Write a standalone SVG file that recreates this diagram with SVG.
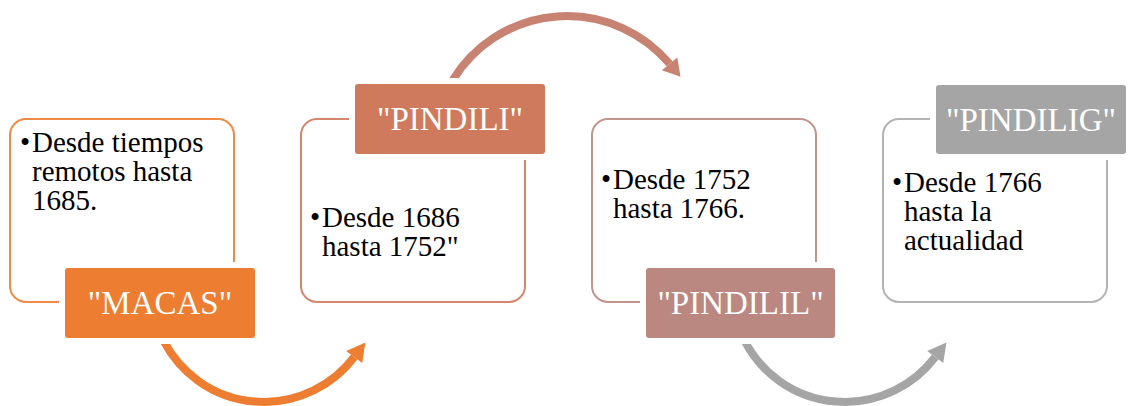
<svg xmlns="http://www.w3.org/2000/svg" width="1128" height="406" viewBox="0 0 1128 406">
<style>
.frame{fill:#fff;stroke-width:2}
.lbl{stroke:#fff;stroke-width:6}
.lt{font-size:33px;fill:#fff;text-anchor:middle}
.bt{font-size:29px;fill:#000}
.arc{fill:none;stroke-width:8}
</style>
<rect width="1128" height="406" fill="#fff"/>
<g id="connectors">
<path class="arc" stroke="#ED7D31" d="M163.8,341.2 A113,113 0 0 0 354.2,357"/>
<polygon fill="#ED7D31" points="365.4,342.4 362.2,363 346.2,351"/>
<path class="arc" stroke="#C88272" d="M452.7,80.1 A134,134 0 0 1 669.6,63.8"/>
<polygon fill="#C88272" points="680.5,76.8 677.3,57.4 661.9,70.2"/>
<path class="arc" stroke="#A5A5A5" d="M744.8,341.2 A113,113 0 0 0 935.2,357"/>
<polygon fill="#A5A5A5" points="946.4,342.4 943.2,363 927.2,351"/>
</g>
<g font-family="Liberation Serif, Tinos, Times New Roman, DejaVu Serif, serif">
<g id="node1">
<rect class="frame" stroke="#F08A45" x="10" y="119" width="224" height="183" rx="16"/>
<text class="bt"><tspan x="20" y="152">•</tspan><tspan x="32" y="152">Desde tiempos</tspan><tspan x="32" y="181">remotos hasta</tspan><tspan x="32" y="210">1685.</tspan></text>
<rect class="lbl" fill="#ED7D31" x="62" y="265" width="196" height="76" rx="6"/>
<text class="lt" x="160" y="314">"MACAS"</text>
</g>
<g id="node2">
<rect class="frame" stroke="#D5876D" x="301" y="119" width="224" height="183" rx="16"/>
<text class="bt"><tspan x="310" y="227">•</tspan><tspan x="322" y="227">Desde 1686</tspan><tspan x="322" y="256">hasta 1752"</tspan></text>
<rect class="lbl" fill="#D07A5D" x="352" y="81" width="196" height="76" rx="6"/>
<text class="lt" x="450" y="130">"PINDILI"</text>
</g>
<g id="node3">
<rect class="frame" stroke="#C0958E" x="592" y="119" width="224" height="183" rx="16"/>
<text class="bt"><tspan x="601" y="189">•</tspan><tspan x="613" y="189">Desde 1752</tspan><tspan x="613" y="218">hasta 1766.</tspan></text>
<rect class="lbl" fill="#BA8880" x="643" y="265" width="195" height="76" rx="6"/>
<text class="lt" x="740.5" y="314">"PINDILIL"</text>
</g>
<g id="node4">
<rect class="frame" stroke="#B3B3B3" x="883" y="119" width="224" height="183" rx="16"/>
<text class="bt"><tspan x="892" y="192">•</tspan><tspan x="904" y="192">Desde 1766</tspan><tspan x="904" y="221">hasta la</tspan><tspan x="904" y="250">actualidad</tspan></text>
<rect class="lbl" fill="#A5A5A5" x="933" y="82" width="196" height="75" rx="6"/>
<text class="lt" x="1031" y="131">"PINDILIG"</text>
</g>
</g>
</svg>
